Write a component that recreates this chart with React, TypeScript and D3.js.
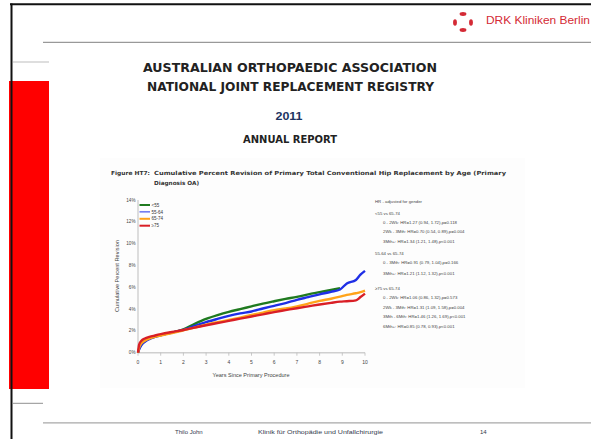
import React from 'react'
import * as d3 from 'd3'

const W = 591
const H = 439

// survival curve data (% revised)
const years = [0, 0.05, 0.15, 0.3, 0.5, 0.75, 1, 1.5, 2, 2.5, 3, 3.5, 4, 4.5, 5, 5.5, 6, 6.5, 7, 7.5, 8, 8.5, 8.9, 9.2, 9.6, 9.8, 10]
const under55 = [0, 0.35, 0.75, 1.05, 1.3, 1.48, 1.62, 1.85, 2.15, 2.65, 3.1, 3.45, 3.75, 4.0, 4.25, 4.5, 4.72, 4.93, 5.12, 5.35, 5.55, 5.75, 5.92, null, null, null, null]
const age5564 = [0, 0.3, 0.7, 1.0, 1.25, 1.45, 1.6, 1.85, 2.1, 2.45, 2.8, 3.1, 3.38, 3.6, 3.78, 4.05, 4.3, 4.55, 4.85, 5.1, 5.35, 5.58, 5.8, 6.35, 6.67, 7.15, 7.5]
const age6574 = [0, 0.45, 0.85, 1.1, 1.3, 1.45, 1.57, 1.8, 2.05, 2.3, 2.58, 2.8, 3.0, 3.22, 3.46, 3.68, 3.9, 4.05, 4.25, 4.5, 4.75, 4.95, 5.14, 5.3, 5.45, 5.55, 5.7]
const over75 = [0, 0.75, 1.1, 1.3, 1.45, 1.58, 1.7, 1.9, 2.08, 2.3, 2.52, 2.72, 2.92, 3.12, 3.32, 3.52, 3.72, 3.9, 4.08, 4.25, 4.42, 4.57, 4.68, 4.72, 4.8, 5.1, 5.42]

const seriesNames = ['<55', '55-64', '65-74', '≥75']
const seriesColors = ['#1f7a1f', '#1f2fe6', '#ffa31a', '#d91f26']
const seriesValues = [under55, age5564, age6574, over75]

const xTicks = [0, 1, 2, 3, 4, 5, 6, 7, 8, 9, 10]
const yTicks = [0, 2, 4, 6, 8, 10, 12, 14]

const notes: [string, boolean][] = [
  ['HR - adjusted for gender', false],
  ['<55 vs 65-74', false],
  ['0 - 2Wk: HR=1.27 (0.94, 1.72),p=0.118', true],
  ['2Wk - 3Mth: HR=0.70 (0.54, 0.89),p=0.004', true],
  ['3Mth+: HR=1.34 (1.21, 1.48),p<0.001', true],
  ['55-64 vs 65-74', false],
  ['0 - 3Mth: HR=0.91 (0.79, 1.04),p=0.166', true],
  ['3Mth+: HR=1.21 (1.12, 1.32),p<0.001', true],
  ['≥75 vs 65-74', false],
  ['0 - 2Wk: HR=1.06 (0.86, 1.32),p=0.573', true],
  ['2Wk - 3Mth: HR=1.31 (1.09, 1.58),p=0.004', true],
  ['3Mth - 6Mth: HR=1.46 (1.26, 1.69),p<0.001', true],
  ['6Mth+: HR=0.85 (0.78, 0.93),p<0.001', true],
]
const noteY = [201, 213, 222, 231.5, 241, 253, 262.5, 273, 288, 297.5, 307, 316.5, 326]

export default function App() {
  const x = d3.scaleLinear().domain([0, 10]).range([138, 365])
  const y = d3.scaleLinear().domain([0, 14]).range([352.7, 200])

  const line = d3.line<[number, number | null]>()
    .defined(d => d[1] != null)
    .x(d => x(d[0]))
    .y(d => y(d[1] as number))
    .curve(d3.curveMonotoneX)

  const sans = 'Liberation Sans, Arial, sans-serif'
  const bold = 'DejaVu Sans, sans-serif'

  return (
    <div style={{ position: 'absolute', left: 0, top: 0 }}>
      <svg width={W} height={H} viewBox={`0 0 ${W} ${H}`} style={{ display: 'block', background: '#fff' }}>
        {/* slide frame */}
        <rect x={9} y={81} width={40} height={308} fill="#ff0000" />
        <line x1={10} x2={W} y1={4.3} y2={4.3} stroke="#111" strokeWidth={2} />
        <line x1={11.5} x2={11.5} y1={3.5} y2={H} stroke="#111" strokeWidth={2} />
        <line x1={43} x2={W} y1={42.3} y2={42.3} stroke="#808080" strokeWidth={1} />
        <line x1={13} x2={49} y1={62} y2={62} stroke="#bdbdbd" strokeWidth={1} />
        <line x1={13} x2={43} y1={403.3} y2={403.3} stroke="#909090" strokeWidth={1} />
        <line x1={43} x2={W} y1={422.8} y2={422.8} stroke="#a8a8a8" strokeWidth={1.2} />

        {/* logo */}
        <g fill="#d42a35">
          <ellipse cx={463} cy={14} rx={3.4} ry={1.9} />
          <ellipse cx={463} cy={30} rx={3.4} ry={1.9} />
          <ellipse cx={455} cy={22.5} rx={1.9} ry={3.2} />
          <ellipse cx={471} cy={22.5} rx={1.9} ry={3.2} />
        </g>
        <text x={486} y={23.5} fontFamily={sans} fontSize={10.2} fill="#d42a35" textLength={104} lengthAdjust="spacingAndGlyphs">DRK Kliniken Berlin</text>

        {/* report heading */}
        <rect x={100} y={158} width={425} height={230} fill="#fdfdfd" />
        <g fontFamily={bold} fontWeight="bold" fill="#222" textAnchor="middle">
          <text x={290} y={71.5} fontSize={12.5} textLength={294} lengthAdjust="spacingAndGlyphs">AUSTRALIAN ORTHOPAEDIC ASSOCIATION</text>
          <text x={290.5} y={91} fontSize={12.5} textLength={287} lengthAdjust="spacingAndGlyphs">NATIONAL JOINT REPLACEMENT REGISTRY</text>
          <text x={289} y={120} fontSize={11} fill="#1d3461" fontFamily={sans} textLength={27} lengthAdjust="spacingAndGlyphs">2011</text>
          <text x={290} y={143} fontSize={10} textLength={94} lengthAdjust="spacingAndGlyphs">ANNUAL REPORT</text>
        </g>

        {/* figure caption */}
        <g fontFamily={bold} fontWeight="bold" fill="#333" fontSize={5.6}>
          <text x={111} y={175} textLength={39} lengthAdjust="spacingAndGlyphs">Figure HT7:</text>
          <text x={154} y={175} textLength={352} lengthAdjust="spacingAndGlyphs">Cumulative Percent Revision of Primary Total Conventional Hip Replacement by Age (Primary</text>
          <text x={154} y={185} textLength={45} lengthAdjust="spacingAndGlyphs">Diagnosis OA)</text>
        </g>

        {/* axes */}
        <line x1={x(0)} x2={x(0)} y1={y(14)} y2={y(0)} stroke="#cfcfcf" strokeWidth={1.4} />
        <line x1={x(0)} x2={x(10)} y1={y(0)} y2={y(0)} stroke="#cfcfcf" strokeWidth={1.4} />
        <g fontFamily={sans} fontSize={4.6} fill="#444">
          {yTicks.map(t => (
            <text key={t} x={135.5} y={y(t) + 1.6} textAnchor="end">{t}%</text>
          ))}
          {xTicks.map(t => (
            <g key={t}>
              <line x1={x(t)} x2={x(t)} y1={y(0)} y2={y(0) + 3} stroke="#bbb" strokeWidth={0.8} />
              <text x={x(t)} y={363.5} textAnchor="middle" fontSize={5}>{t}</text>
            </g>
          ))}
          <text x={251} y={377} textAnchor="middle" fontSize={4.9} textLength={77} lengthAdjust="spacingAndGlyphs">Years Since Primary Procedure</text>
          <text transform="translate(118.5,276) rotate(-90)" textAnchor="middle" fontSize={4.9} textLength={72} lengthAdjust="spacingAndGlyphs">Cumulative Percent Revision</text>
        </g>

        {/* curves */}
        {seriesValues.map((vals, i) => (
          <path key={i} d={line(years.map((yr, j) => [yr, vals[j]] as [number, number | null])) || ''}
            fill="none" stroke={seriesColors[i]} strokeWidth={2.4} strokeLinejoin="round" />
        ))}

        {/* legend */}
        <g fontFamily={sans} fontSize={4.5} fill="#333">
          {seriesNames.map((n, i) => (
            <g key={n}>
              <line x1={139.5} x2={150} y1={205 + i * 6.9} y2={205 + i * 6.9} stroke={seriesColors[i]} strokeWidth={i === 1 ? 1 : 2} />
              <text x={151.5} y={205 + i * 6.9 + 1.6}>{n}</text>
            </g>
          ))}
        </g>

        {/* hazard ratio notes */}
        <g fontFamily={sans} fontSize={4.3} fill="#444">
          {notes.map(([s, indent], i) => (
            <text key={i} x={indent ? 383 : 375} y={noteY[i] + 1.5}>{s}</text>
          ))}
        </g>

        {/* footer */}
        <g fontFamily={sans} fontSize={6} fill="#333a4d">
          <text x={175} y={434}>Thilo John</text>
          <text x={258} y={434} textLength={125} lengthAdjust="spacingAndGlyphs">Klinik für Orthopädie und Unfallchirurgie</text>
          <text x={480} y={434}>14</text>
        </g>
      </svg>
    </div>
  )
}
